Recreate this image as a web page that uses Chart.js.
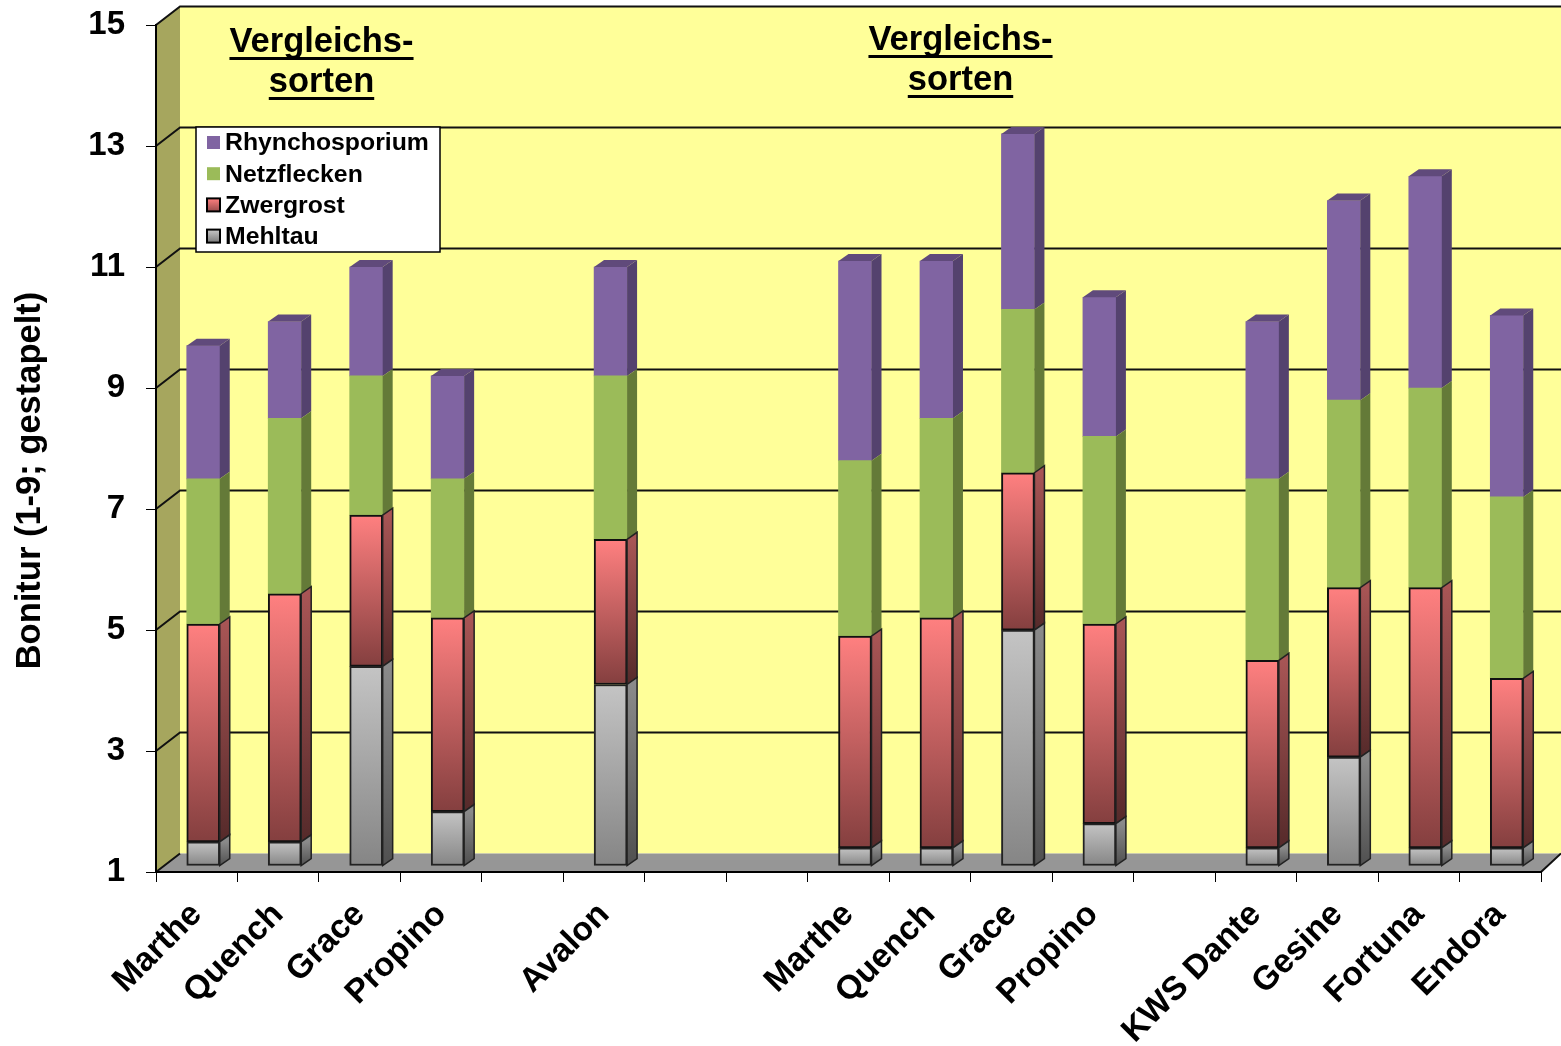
<!DOCTYPE html>
<html>
<head>
<meta charset="utf-8">
<style>
    html, body { margin: 0; padding: 0; background: #fff; }
    canvas { display: block; }
</style>
<script src="https://cdn.jsdelivr.net/npm/chart.js@4/dist/chart.umd.min.js"></script>
</head>
<body>
<canvas id="chart" width="1561" height="1046"></canvas>
<script>
const categories = ['Marthe', 'Quench', 'Grace', 'Propino', '', 'Avalon', '', '', 'Marthe', 'Quench', 'Grace', 'Propino', '', 'KWS Dante', 'Gesine', 'Fortuna', 'Endora'];
const mehltau = [1.4, 1.4, 4.3, 1.9, null, 4.0, null, null, 1.3, 1.3, 4.9, 1.7, null, 1.3, 2.8, 1.3, 1.3];
const zwergrost = [3.6, 4.1, 2.5, 3.2, null, 2.4, null, null, 3.5, 3.8, 2.6, 3.3, null, 3.1, 2.8, 4.3, 2.8];
const netzflecken = [2.4, 2.9, 2.3, 2.3, null, 2.7, null, null, 2.9, 3.3, 2.7, 3.1, null, 3.0, 3.1, 3.3, 3.0];
const rhynchosporium = [2.2, 1.6, 1.8, 1.7, null, 1.8, null, null, 3.3, 2.6, 2.9, 2.3, null, 2.6, 3.3, 3.5, 3.0];
const yTicks = [1, 3, 5, 7, 9, 11, 13, 15];
const yTitle = 'Bonitur (1-9; gestapelt)';
const noteLines = ['Vergleichs-', 'sorten'];

const WALL_DX = 24, WALL_DY = -18.5;
const BAR_DX = 6.5, BAR_DY = -6;
const SIDE_DX = 10, SIDE_DY = -7;
const FONT = '"Liberation Sans", Arial, sans-serif';

// Vertical gradient over one stacked segment
function segmentGradient(chart, datasetIndex, dataIndex, topColor, bottomColor) {
    let start = 0;
    for (let i = 0; i < datasetIndex; i++) {
        start += chart.data.datasets[i].data[dataIndex] || 0;
    }
    const end = start + (chart.data.datasets[datasetIndex].data[dataIndex] || 0);
    const y = chart.scales.y;
    const y0 = y.getPixelForValue(end), y1 = y.getPixelForValue(Math.max(start, 1));
    if (!Number.isFinite(y0) || !Number.isFinite(y1)) return topColor; // scale not laid out yet
    const g = chart.ctx.createLinearGradient(0, y0, 0, y1);
    g.addColorStop(0, topColor);
    g.addColorStop(1, bottomColor);
    return g;
}

function gradientFill(topColor, bottomColor) {
    return function (context) {
        if (context.type !== 'data') return topColor;
        return segmentGradient(context.chart, context.datasetIndex, context.dataIndex, topColor, bottomColor);
    };
}

const sideColors = [
    ['#8A8A8A', '#505050'],
    ['#A85555', '#552A2A'],
    ['#647A38', '#647A38'],
    ['#54426E', '#54426E']
];

const legendSwatches = [
    ['#C8C8C8', '#808080', true],
    ['#FF8080', '#A04F4F', true],
    ['#9BBB59', '#9BBB59', false],
    ['#8064A2', '#8064A2', false]
];

const wallPlugin = {
    id: 'wall',
    beforeDraw(chart) {
        const { ctx, chartArea: a, scales: { y } } = chart;
        const yBottom = y.getPixelForValue(1), yTop = y.getPixelForValue(15);
        const edge = chart.width;
        ctx.save();
        // back wall
        ctx.fillStyle = '#FFFF99';
        ctx.fillRect(a.left + WALL_DX, yTop + WALL_DY, edge - a.left - WALL_DX, yBottom - yTop);
        // left wall
        ctx.fillStyle = '#A6A65E';
        ctx.beginPath();
        ctx.moveTo(a.left, yTop);
        ctx.lineTo(a.left + WALL_DX, yTop + WALL_DY);
        ctx.lineTo(a.left + WALL_DX, yBottom + WALL_DY);
        ctx.lineTo(a.left, yBottom);
        ctx.closePath();
        ctx.fill();
        // floor
        ctx.fillStyle = '#969696';
        ctx.beginPath();
        ctx.moveTo(a.left, yBottom);
        ctx.lineTo(a.left + WALL_DX, yBottom + WALL_DY);
        ctx.lineTo(edge, yBottom + WALL_DY);
        ctx.lineTo(a.right, yBottom);
        ctx.closePath();
        ctx.fill();
        // gridlines, bent over the left wall
        ctx.strokeStyle = '#111';
        ctx.lineWidth = 2;
        yTicks.forEach(v => {
            if (v === 1) return;
            const py = y.getPixelForValue(v);
            ctx.beginPath();
            ctx.moveTo(a.left, py);
            ctx.lineTo(a.left + WALL_DX, py + WALL_DY);
            ctx.lineTo(edge, py + WALL_DY);
            ctx.stroke();
        });
        ctx.beginPath();
        ctx.moveTo(a.left, yBottom);
        ctx.lineTo(a.left + WALL_DX, yBottom + WALL_DY);
        ctx.moveTo(a.right, yBottom);
        ctx.lineTo(edge, yBottom + WALL_DY);
        ctx.stroke();
        ctx.restore();
    },
    beforeDatasetsDraw(chart) {
        chart.ctx.save();
        chart.ctx.translate(BAR_DX, BAR_DY);
    },
    afterDatasetsDraw(chart) {
        const ctx = chart.ctx;
        for (let d = chart.data.datasets.length - 1; d >= 0; d--) {
            const bordered = legendSwatches[d][2];
            chart.getDatasetMeta(d).data.forEach((bar, i) => {
                if (chart.data.datasets[d].data[i] == null) return;
                const { x, y, base, width } = bar.getProps(['x', 'y', 'base', 'width'], true);
                const right = x + width / 2, left = x - width / 2;
                const g = ctx.createLinearGradient(0, y, 0, base);
                g.addColorStop(0, sideColors[d][0]);
                g.addColorStop(1, sideColors[d][1]);
                ctx.fillStyle = g;
                ctx.beginPath();
                ctx.moveTo(right, y);
                ctx.lineTo(right + SIDE_DX, y + SIDE_DY);
                ctx.lineTo(right + SIDE_DX, base + SIDE_DY);
                ctx.lineTo(right, base);
                ctx.closePath();
                ctx.fill();
                if (bordered) {
                    ctx.strokeStyle = '#222';
                    ctx.lineWidth = 1.5;
                    ctx.stroke();
                }
                // top cap only on the uppermost series
                if (d === chart.data.datasets.length - 1) {
                    ctx.fillStyle = '#604A7B';
                    ctx.beginPath();
                    ctx.moveTo(left, y);
                    ctx.lineTo(left + SIDE_DX, y + SIDE_DY);
                    ctx.lineTo(right + SIDE_DX, y + SIDE_DY);
                    ctx.lineTo(right, y);
                    ctx.closePath();
                    ctx.fill();
                }
            });
        }
        ctx.restore();
    },
    afterDraw(chart) {
        const ctx = chart.ctx;
        ctx.save();
        // axis title
        ctx.fillStyle = '#000';
        ctx.font = 'bold 34.5px ' + FONT;
        ctx.textAlign = 'center';
        ctx.textBaseline = 'middle';
        ctx.save();
        ctx.translate(30, 480.5);
        ctx.rotate(-Math.PI / 2);
        ctx.fillText(yTitle, 0, 0);
        ctx.restore();
        // underlined notes
        [[321.5, 42], [960.5, 40]].forEach(([cx, cy]) => {
            noteLines.forEach((line, i) => {
                const ly = cy + i * 40;
                ctx.fillText(line, cx, ly);
                const w = ctx.measureText(line).width;
                ctx.fillRect(cx - w / 2, ly + 15, w, 3);
            });
        });
        // legend box
        ctx.fillStyle = '#fff';
        ctx.fillRect(196, 127, 244, 125);
        ctx.strokeStyle = '#000';
        ctx.lineWidth = 1.5;
        ctx.strokeRect(196, 127, 244, 125);
        ctx.font = 'bold 24.8px ' + FONT;
        ctx.textAlign = 'left';
        const rows = chart.data.datasets.map((ds, i) => i).reverse();
        rows.forEach((d, row) => {
            const ry = 142 + row * 31.2;
            const s = legendSwatches[d];
            const g = ctx.createLinearGradient(0, ry - 6, 0, ry + 6);
            g.addColorStop(0, s[0]);
            g.addColorStop(1, s[1]);
            ctx.fillStyle = g;
            ctx.fillRect(207, ry - 6, 13, 13);
            if (s[2]) {
                ctx.strokeStyle = '#000';
                ctx.lineWidth = 2;
                ctx.strokeRect(207, ry - 6, 13, 13);
            }
            ctx.fillStyle = '#000';
            ctx.fillText(chart.data.datasets[d].label, 225, ry + 1.5);
        });
        ctx.restore();
    }
};

new Chart(document.getElementById('chart'), {
    type: 'bar',
    data: {
        labels: categories,
        datasets: [
            { label: 'Mehltau', data: mehltau, base: 1, backgroundColor: gradientFill('#C4C4C4', '#858585'), borderColor: '#222', borderWidth: 2, borderSkipped: false },
            { label: 'Zwergrost', data: zwergrost, backgroundColor: gradientFill('#FF8080', '#843F3F'), borderColor: '#111', borderWidth: 2, borderSkipped: false },
            { label: 'Netzflecken', data: netzflecken, backgroundColor: '#9BBB59', borderWidth: 0 },
            { label: 'Rhynchosporium', data: rhynchosporium, backgroundColor: '#8064A2', borderWidth: 0 }
        ]
    },
    options: {
        responsive: false,
        animation: false,
        barThickness: 33,
        clip: false,
        layout: { padding: { top: 25, right: 20, left: 0, bottom: 0 } },
        plugins: { legend: { display: false }, tooltip: { enabled: false } },
        scales: {
            x: {
                stacked: true,
                afterFit(scale) {
                    scale.height = 174;
                    scale.paddingTop = 0;
                    scale.paddingBottom = 0;
                },
                grid: { offset: true, drawOnChartArea: false, color: '#000', tickLength: 10 },
                border: { color: '#000', width: 2 },
                ticks: {
                    autoSkip: false,
                    minRotation: 45,
                    maxRotation: 45,
                    padding: 13,
                    color: '#000',
                    font: { family: FONT, size: 33.5, weight: 'bold' }
                }
            },
            y: {
                stacked: true,
                min: 1,
                max: 15,
                afterFit(scale) {
                    scale.width = 156;
                    scale.paddingTop = 0;
                    scale.paddingBottom = 0;
                },
                afterBuildTicks(scale) { scale.ticks = yTicks.map(value => ({ value })); },
                grid: { drawOnChartArea: false, color: '#000', tickLength: 10 },
                border: { color: '#000', width: 2 },
                ticks: {
                    padding: 21,
                    color: '#000',
                    font: { family: FONT, size: 33, weight: 'bold' }
                }
            }
        }
    },
    plugins: [wallPlugin]
});
</script>
</body>
</html>
